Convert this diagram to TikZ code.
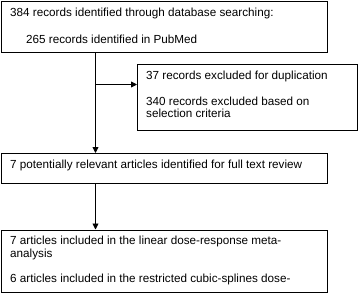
\documentclass[tikz,border=0pt]{standalone}
\usepackage{fontspec}
\setmainfont{Liberation Sans}
\usetikzlibrary{arrows.meta}
\begin{document}
\begin{tikzpicture}[x=1pt,y=-1pt,
  box/.style={draw=black, line width=0.9pt, rectangle, anchor=north west, inner sep=0pt},
  txt/.style={anchor=base west, inner sep=0pt, font=\fontsize{11.7}{13}\selectfont, text=black},
  arr/.style={draw=black, line width=0.9pt, -{Triangle[length=6pt,width=6pt]}}]
\useasboundingbox (0,0) rectangle (359,293);
\node[box, minimum width=326pt, minimum height=51pt] (b1) at (1,1) {};
\node[box, minimum width=220pt, minimum height=66.5pt] (b2) at (137,63.5) {};
\node[box, minimum width=326pt, minimum height=30pt] (b3) at (1,153) {};
\node[box, minimum width=326pt, minimum height=62.5pt] (b4) at (1,229.5) {};
\node[txt] (t1a) at (10,16.7) {384 records identified through database searching:};
\node[txt] (t1b) at (26,43.3) {265 records identified in PubMed};
\node[txt] (t2a) at (146,79.3) {37 records excluded for duplication};
\node[txt] (t2b) at (146,105) {340 records excluded based on};
\node[txt] (t2c) at (146,117.5) {selection criteria};
\node[txt] (t3) at (10,168.5) {7 potentially relevant articles identified for full text review};
\node[txt] (t4a) at (10,244.7) {7 articles included in the linear dose-response meta-};
\node[txt] (t4b) at (10,257.5) {analysis};
\node[txt] (t4c) at (10,282) {6 articles included in the restricted cubic-splines dose-};
\coordinate (j) at (95.5,84.5);
\draw[arr] (j |- b1.south) -- (j |- b3.north);
\draw[arr] (j) -- (j -| b2.west);
\draw[arr] (j |- b3.south) -- (j |- b4.north);
\end{tikzpicture}
\end{document}
